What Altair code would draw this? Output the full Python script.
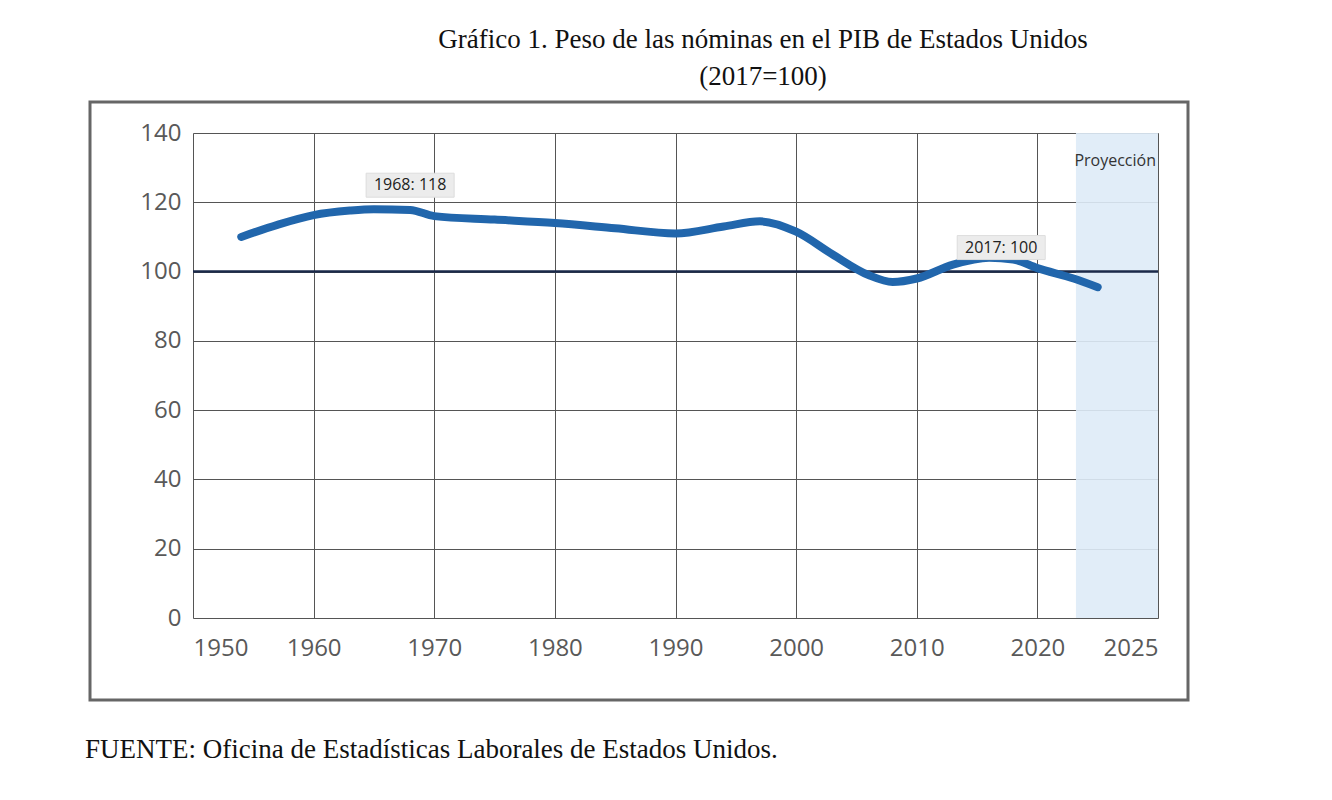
import altair as alt
import pandas as pd

years = [1954, 1957, 1960, 1963, 1965, 1968, 1970, 1975, 1980, 1985, 1990, 1994, 1997, 2000, 2003, 2006, 2008, 2010, 2013, 2016, 2018, 2020, 2021.5, 2022.5]
values = [110, 113.5, 116.3, 117.6, 118, 117.8, 116, 115, 114, 112.5, 111, 113, 114.5, 111.5, 105, 99, 97, 98, 102, 104, 103.5, 101, 98, 95.5]
tick_labels = ["1950", "1960", "1970", "1980", "1990", "2000", "2010", "2020", "2025"]
notes = [{"year": 1968, "v": 118, "t": "1968: 118"}, {"year": 2017, "v": 100, "t": "2017: 100"}]
proj = [{"a": 2021.6, "b": 2025}]

pos = "datum.year <= 2020 ? (datum.year-1950)/10 : 7 + (datum.year-2020)/5"
FONT = "Open Sans"

df = pd.DataFrame({"year": years, "v": values})
x = alt.X("p:Q", scale=alt.Scale(domain=[0, 8], nice=False),
          axis=alt.Axis(values=list(range(9)), labelExpr=f"{tick_labels}[datum.value]",
                        title=None, grid=True, gridColor="#555", gridWidth=1, domain=False, ticks=False,
                        labelFontSize=24, labelColor="#595959", labelPadding=18, labelFont=FONT))
y = alt.Y("v:Q", scale=alt.Scale(domain=[0, 140]),
          axis=alt.Axis(values=list(range(0, 141, 20)), title=None, grid=True, gridColor="#555",
                        domain=False, ticks=False, labelFontSize=24, labelColor="#595959",
                        labelPadding=12, labelFont=FONT))

band = alt.Chart(pd.DataFrame(proj)).transform_calculate(
    pa="(datum.a-2020)/5+7", pb="(datum.b-2020)/5+7").mark_rect(color="#deebf7", opacity=0.9).encode(
    x=alt.X("pa:Q", scale=alt.Scale(domain=[0, 8], nice=False)), x2="pb:Q",
    y=alt.value(0), y2=alt.value(485))
grid = alt.Chart(df).mark_point(opacity=0).encode(x=x, y=y).transform_calculate(p=pos)
proj_txt = alt.Chart(pd.DataFrame([{"t": "Proyección"}])).mark_text(
    font=FONT, fontSize=16, color="#333", align="right").encode(
    x=alt.value(963), y=alt.value(28), text="t:N")
ref = alt.Chart(pd.DataFrame([{"v": 100}])).mark_rule(color="#1b2a4a", strokeWidth=2.5).encode(y="v:Q")
line = alt.Chart(df).transform_calculate(p=pos).mark_line(
    color="#2166ac", strokeWidth=8, interpolate="monotone", strokeCap="round").encode(x="p:Q", y="v:Q")
nd = alt.Chart(pd.DataFrame(notes)).transform_calculate(p=pos)
box = nd.mark_rect(width=88, height=24, fill="#ececec", stroke="#ddd").encode(
    x="p:Q", y="v:Q", yOffset=alt.value(-24))
ntxt = nd.mark_text(font=FONT, fontSize=16, color="#222").encode(
    x="p:Q", y="v:Q", yOffset=alt.value(-24), text="t:N")

texts = pd.DataFrame([
    {"t": "Gráfico 1. Peso de las nóminas en el PIB de Estados Unidos", "x": 570, "y": -93},
    {"t": "(2017=100)", "x": 570, "y": -56},
])
title = alt.Chart(texts).mark_text(font="Liberation Serif", fontSize=27, color="#111").encode(
    x=alt.X("x:Q", scale=None), y=alt.Y("y:Q", scale=None), text="t:N")
src = alt.Chart(pd.DataFrame([{"t": "FUENTE: Oficina de Estadísticas Laborales de Estados Unidos."}])).mark_text(
    font="Liberation Serif", fontSize=27, color="#111", align="left").encode(
    x=alt.value(-108), y=alt.value(617), text="t:N")
border = alt.Chart(pd.DataFrame([{"a": 1}])).mark_rect(fill=None, stroke="#666", strokeWidth=3).encode(
    x=alt.value(-103), x2=alt.value(995), y=alt.value(-31), y2=alt.value(567))

chart = alt.layer(band, grid, proj_txt, ref, line, box, ntxt, title, src, border).properties(
    width=965, height=485, autosize="none",
    padding={"left": 185, "top": 125, "right": 166, "bottom": 174},
).configure_view(stroke=None).configure(background="white")
chart.save("out.html", embed_options={"renderer": "svg", "actions": False})
